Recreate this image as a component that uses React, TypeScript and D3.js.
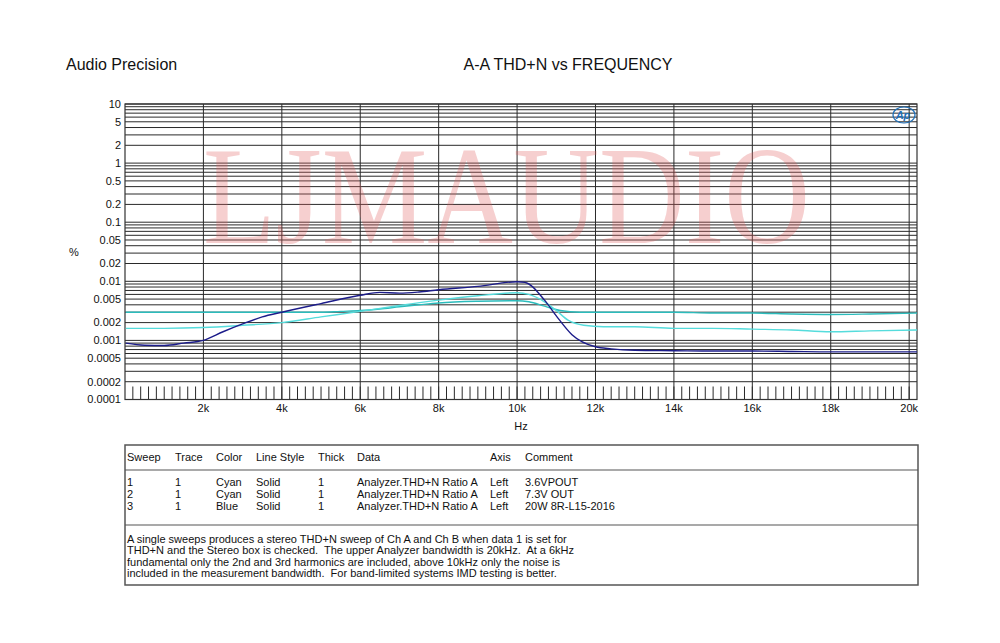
import React from "react";
import * as d3 from "d3";

const yTickLabels = ["10", "5", "2", "1", "0.5", "0.2", "0.1", "0.05", "0.02", "0.01", "0.005", "0.002", "0.001", "0.0005", "0.0002", "0.0001"];
const xTickLabels = ["2k", "4k", "6k", "8k", "10k", "12k", "14k", "16k", "18k", "20k"];

// Sweep 1: Cyan, 3.6VPOUT
const sweep1Hz = [20, 1000, 2000, 3000, 4000, 5000, 5500, 6000, 6500, 7000, 7500, 8000, 9000, 10000, 10300, 10700, 11100, 11600, 12000, 13000, 14000, 15000, 16000, 17000, 18000, 19000, 20200];
const sweep1Pct = [0.003, 0.003, 0.003, 0.003, 0.003, 0.003, 0.0031, 0.0032, 0.0034, 0.0037, 0.004, 0.0043, 0.0046, 0.0047, 0.0045, 0.0038, 0.0032, 0.003, 0.003, 0.003, 0.003, 0.0029, 0.0029, 0.0028, 0.00275, 0.0028, 0.0029];

// Sweep 2: Cyan, 7.3V OUT
const sweep2Hz = [20, 1000, 2000, 3000, 4000, 5000, 6000, 7000, 8000, 9000, 10000, 10300, 10700, 11000, 11300, 11700, 12200, 13000, 14000, 15000, 16000, 17000, 18000, 19000, 20200];
const sweep2Pct = [0.0016, 0.0016, 0.00165, 0.0018, 0.002, 0.0025, 0.0031, 0.0039, 0.0048, 0.0057, 0.0064, 0.006, 0.0045, 0.0032, 0.0022, 0.0018, 0.0017, 0.0017, 0.0016, 0.0016, 0.00155, 0.0015, 0.0014, 0.00145, 0.0015];

// Sweep 3: Blue, 20W 8R-L15-2016
const sweep3Hz = [20, 500, 1000, 1500, 2000, 2500, 3000, 3500, 4000, 5000, 6000, 6500, 7000, 7500, 8000, 9000, 10000, 10200, 10700, 11000, 11400, 12000, 12400, 13000, 14000, 15000, 16000, 17000, 18000, 19000, 20200];
const sweep3Pct = [0.0009, 0.00083, 0.00082, 0.0009, 0.001, 0.0014, 0.0019, 0.0025, 0.003, 0.0042, 0.0058, 0.0065, 0.0063, 0.0066, 0.0072, 0.0082, 0.0098, 0.0096, 0.0048, 0.0026, 0.00125, 0.00078, 0.00072, 0.00068, 0.00067, 0.00066, 0.00066, 0.00065, 0.00064, 0.00064, 0.00064];

const legendHeader = ["Sweep", "Trace", "Color", "Line Style", "Thick", "Data", "Axis", "Comment"];
const legendRows = [
  ["1", "1", "Cyan", "Solid", "1", "Analyzer.THD+N Ratio A", "Left", "3.6VPOUT"],
  ["2", "1", "Cyan", "Solid", "1", "Analyzer.THD+N Ratio A", "Left", "7.3V OUT"],
  ["3", "1", "Blue", "Solid", "1", "Analyzer.THD+N Ratio A", "Left", "20W 8R-L15-2016"],
];
const noteLines = [
  "A single sweeps produces a stereo THD+N sweep of Ch A and Ch B when data 1 is set for",
  "THD+N and the Stereo box is checked.  The upper Analyzer bandwidth is 20kHz.  At a 6kHz",
  "fundamental only the 2nd and 3rd harmonics are included, above 10kHz only the noise is",
  "included in the measurement bandwidth.  For band-limited systems IMD testing is better.",
];

const FONT = "'Liberation Sans', Arial, Helvetica, sans-serif";

export default function App() {
  const L = 125, R = 917, T = 104, B = 399.5;
  const x = d3.scaleLinear().domain([0, 20200]).range([L, R]);
  const y = d3.scaleLog().domain([0.0001, 10]).range([B, T]);

  const gridVals: number[] = [];
  for (let e = -4; e <= 0; e++) for (let m = 1; m <= 9; m++) gridVals.push(m * Math.pow(10, e));
  gridVals.push(10);

  const xMajor = d3.range(2000, 20001, 2000);
  const xMinor = d3.range(200, 20200, 200);

  const line = d3.line<[number, number]>().x(d => x(d[0])).y(d => y(d[1])).curve(d3.curveMonotoneX);
  const mk = (hz: number[], v: number[]) => line(hz.map((h, i) => [h, v[i]] as [number, number])) || "";

  const colX = [127, 175, 216, 256, 318, 357, 490, 525];

  return (
    <svg width={1000} height={643} style={{ position: "absolute", left: 0, top: 0, background: "#fff" }} fontFamily={FONT}>
      <rect x={0} y={0} width={1000} height={643} fill="#fff" />
      <text x={66} y={70} fontSize={16} fill="#111">Audio Precision</text>
      <text x={568} y={70} fontSize={16} fill="#111" textAnchor="middle">A-A THD+N vs FREQUENCY</text>

      {/* grid */}
      {gridVals.map((v, i) => (
        <line key={"h" + i} x1={L} x2={R} y1={y(v)} y2={y(v)} stroke="#2a2a2a" strokeWidth={1} />
      ))}
      {xMajor.map((v, i) => (
        <line key={"v" + i} x1={x(v)} x2={x(v)} y1={T} y2={B} stroke="#2a2a2a" strokeWidth={1} />
      ))}
      {xMinor.map((v, i) => (
        <line key={"m" + i} x1={x(v)} x2={x(v)} y1={B} y2={B - 13} stroke="#2a2a2a" strokeWidth={1} />
      ))}

      {/* watermark */}
      <g transform="translate(203,243) scale(1,1.176)">
        <text x={0} y={0} fontSize={119} fontFamily="'Liberation Serif', 'Times New Roman', serif" textLength={607} lengthAdjust="spacingAndGlyphs" fill="#e06060" fillOpacity={0.3}>LJMAUDIO</text>
      </g>

      {/* frame */}
      <rect x={L} y={T} width={R - L} height={B - T} fill="none" stroke="#333" strokeWidth={1.2} />

      {/* curves */}
      <path d={mk(sweep1Hz, sweep1Pct)} fill="none" stroke="#2bbcbc" strokeWidth={1.4} />
      <path d={mk(sweep2Hz, sweep2Pct)} fill="none" stroke="#55dcdc" strokeWidth={1.4} />
      <path d={mk(sweep3Hz, sweep3Pct)} fill="none" stroke="#1c1c8a" strokeWidth={1.4} />

      {/* y labels */}
      {yTickLabels.map((t, i) => (
        <text key={"yl" + i} x={121} y={y(parseFloat(t))} dy="0.35em" fontSize={11} textAnchor="end" fill="#111">{t}</text>
      ))}
      <text x={69} y={256} fontSize={11} fill="#111">%</text>
      {xTickLabels.map((t, i) => (
        <text key={"xl" + i} x={x(xMajor[i])} y={412} fontSize={11} textAnchor="middle" fill="#111">{t}</text>
      ))}
      <text x={521} y={430} fontSize={11} textAnchor="middle" fill="#111">Hz</text>

      {/* AP logo */}
      <ellipse cx={904} cy={115} rx={11} ry={8} fill="none" stroke="#1f6fb8" strokeWidth={1.2} />
      <text x={903} y={119} fontSize={11} fontStyle="italic" fontWeight="bold" textAnchor="middle" fill="#1f6fb8">Ap</text>

      {/* legend table */}
      <rect x={125} y={445} width={793} height={140} fill="#fff" stroke="#555" strokeWidth={1.5} />
      <line x1={125} x2={918} y1={470} y2={470} stroke="#555" strokeWidth={1.2} />
      <line x1={125} x2={918} y1={525} y2={525} stroke="#555" strokeWidth={1.2} />
      {legendHeader.map((h, i) => (
        <text key={"lh" + i} x={colX[i]} y={461} fontSize={11} fill="#111">{h}</text>
      ))}
      {legendRows.map((row, r) =>
        row.map((c, i) => (
          <text key={"lr" + r + "-" + i} x={colX[i]} y={485.5 + r * 12} fontSize={11} fill="#111">{c}</text>
        ))
      )}
      {noteLines.map((t, i) => (
        <text key={"n" + i} x={127} y={543 + i * 11.3} fontSize={11} fill="#111" style={{ whiteSpace: "pre" }} xmlSpace="preserve">{t}</text>
      ))}
    </svg>
  );
}
